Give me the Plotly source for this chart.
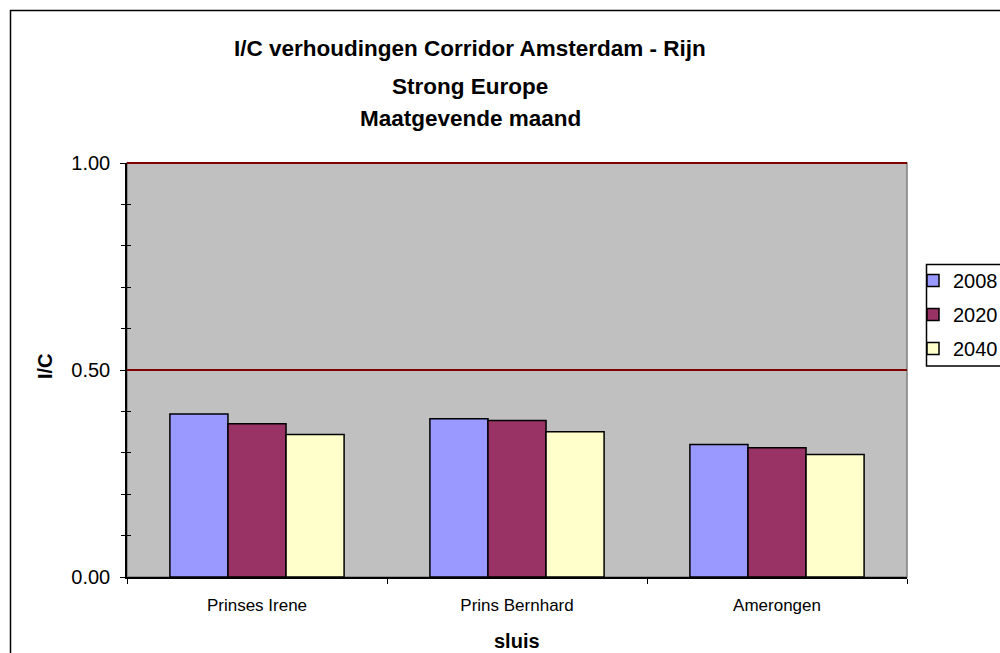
import plotly.graph_objects as go

categories = ["Prinses Irene", "Prins Bernhard", "Amerongen"]
years = ["2008", "2020", "2040"]
values_2008 = [0.394, 0.382, 0.320]
values_2020 = [0.370, 0.378, 0.312]
values_2040 = [0.344, 0.351, 0.296]
colors = ["#9999FF", "#993366", "#FFFFCC"]
title_lines = ["I/C verhoudingen Corridor Amsterdam - Rijn", "Strong Europe", "Maatgevende maand"]
y_range = [0.0, 1.0]
y_ticks = [0.0, 0.5, 1.0]
y_ticklabels = ["0.00", "0.50", "1.00"]
red_lines = [0.5, 1.0]

FONT = "Liberation Sans, Arial, sans-serif"

fig = go.Figure()
for name, vals, col in zip(years, [values_2008, values_2020, values_2040], colors):
    fig.add_trace(go.Bar(
        x=categories, y=vals, name=name, legendgroup=name,
        marker=dict(color=col, line=dict(color="black", width=1.5)),
    ))

L, R, T, B = 127, 93, 163, 76
W, H = 1000, 653
pw, ph = W - L - R, H - T - B


def px_x(x):
    return (x - L) / pw


def px_y(y):
    return (H - B - y) / ph


fig.update_layout(
    width=W, height=H,
    margin=dict(l=L, r=R, t=T, b=B, pad=0, autoexpand=False),
    paper_bgcolor="white", plot_bgcolor="#C0C0C0",
    barmode="group", bargap=0.33, bargroupgap=0,
    font=dict(family=FONT, color="black", size=20),
    showlegend=True,
    legend=dict(
        x=px_x(913), xanchor="left",
        y=px_y(261), yanchor="top",
        borderwidth=0, bgcolor="rgba(0,0,0,0)",
        font=dict(size=20, family=FONT), tracegroupgap=5,
    ),
    xaxis=dict(
        showline=True, linecolor="black", linewidth=1.5,
        ticks="outside", ticklen=5, tickcolor="black", tickson="boundaries",
        tickfont=dict(size=17, family=FONT), ticklabelstandoff=12,
        showgrid=False, zeroline=False,
    ),
    yaxis=dict(
        range=y_range, showline=True, linecolor="black", linewidth=1.5,
        tickvals=y_ticks, ticktext=y_ticklabels,
        ticks="outside", ticklen=5, tickcolor="black",
        tickfont=dict(size=20, family=FONT), ticklabelstandoff=6,
        showgrid=False, zeroline=False,
        minor=dict(dtick=0.1, ticks="outside", ticklen=4, tickcolor="black", showgrid=False),
    ),
    yaxis2=dict(
        range=y_range, overlaying="y", side="left", showline=False,
        tickvals=y_ticks, ticks="inside", ticklen=5, tickcolor="black",
        showticklabels=False, showgrid=False, zeroline=False,
        minor=dict(dtick=0.1, ticks="inside", ticklen=4, tickcolor="black", showgrid=False),
    ),
)

fig.add_trace(go.Scatter(x=categories, y=[None, None, None], yaxis="y2", showlegend=False,
                         hoverinfo="skip", mode="markers"))

# plot-area frame (gray), under the axes
fig.add_shape(type="rect", xref="paper", yref="paper", x0=0, x1=1, y0=0, y1=1,
              line=dict(color="#808080", width=1.5), fillcolor="rgba(0,0,0,0)", layer="below")

# dark red reference lines (positioned from data values relative to the axis range)
for v in red_lines:
    frac = (v - y_range[0]) / (y_range[1] - y_range[0])
    fig.add_shape(type="line", xref="paper", yref="paper", x0=0, x1=1, y0=frac, y1=frac,
                  line=dict(color="#800000", width=2), layer="above")

# Title lines
title_centers = [48, 86, 119]
for txt, yc in zip(title_lines, title_centers):
    fig.add_annotation(
        text="<b>%s</b>" % txt, xref="paper", yref="paper",
        x=px_x(470), y=px_y(yc), xanchor="center", yanchor="middle",
        showarrow=False, font=dict(size=22.5, family=FONT, color="black"),
    )

# Axis titles
fig.add_annotation(text="<b>I/C</b>", xref="paper", yref="paper",
                   x=px_x(45), y=px_y(366), textangle=-90,
                   xanchor="center", yanchor="middle", showarrow=False,
                   font=dict(size=20, family=FONT, color="black"))
fig.add_annotation(text="<b>sluis</b>", xref="paper", yref="paper",
                   x=px_x(517), y=px_y(641), textangle=0,
                   xanchor="center", yanchor="middle", showarrow=False,
                   font=dict(size=20, family=FONT, color="black"))

# Legend frame
fig.add_shape(type="rect", xref="paper", yref="paper",
              x0=px_x(926.5), x1=px_x(1010), y0=px_y(366), y1=px_y(264.5),
              line=dict(color="black", width=1.5), fillcolor="white", layer="above")

# Outer chart border
fig.add_shape(type="rect", xref="paper", yref="paper",
              x0=px_x(10.5), x1=px_x(1010), y0=px_y(700), y1=px_y(10.5),
              line=dict(color="black", width=1.5), fillcolor="rgba(0,0,0,0)", layer="above")

fig.write_html("out.html", config={"displayModeBar": False},
               post_script="document.body.style.margin='0px';document.body.style.overflow='hidden';")
